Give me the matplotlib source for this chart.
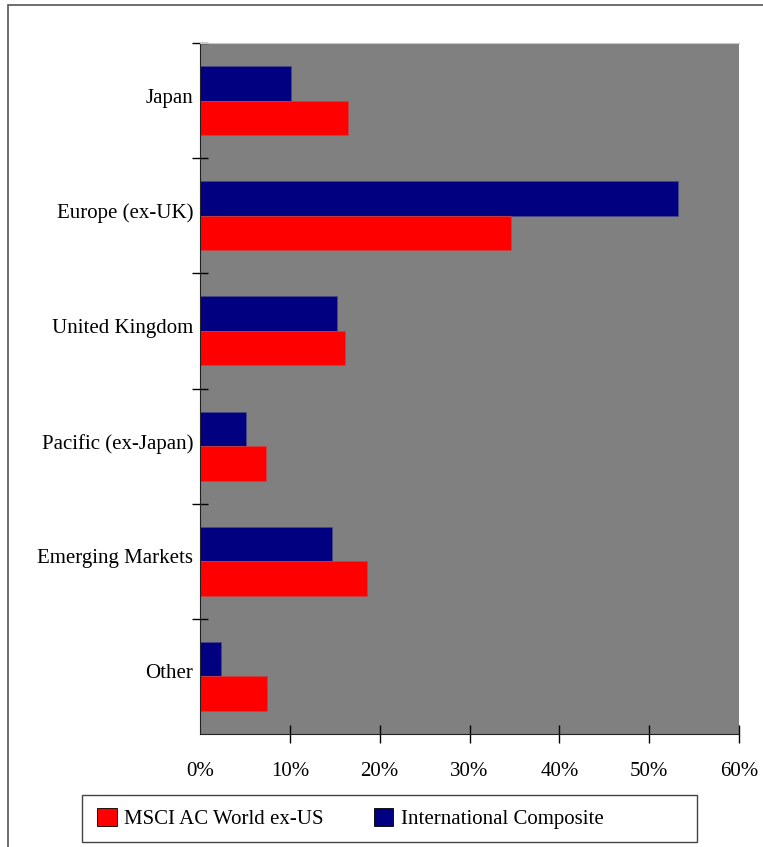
import matplotlib.pyplot as plt
import matplotlib.transforms as mtransforms
from matplotlib.patches import Rectangle, Patch
from matplotlib.ticker import FuncFormatter
import numpy as np

plt.rcParams['font.family'] = ['Liberation Serif', 'DejaVu Serif']

regions = ['Japan', 'Europe (ex-UK)', 'United Kingdom', 'Pacific (ex-Japan)',
           'Emerging Markets', 'Other']
msci = [16.5, 34.6, 16.1, 7.3, 18.6, 7.5]
composite = [10.1, 53.2, 15.3, 5.1, 14.7, 2.3]
xticks = [0, 10, 20, 30, 40, 50, 60]

W, H = 763, 847
fig = plt.figure(figsize=(W / 100, H / 100), dpi=100)

# outer frame, runs off the right and bottom edges
fig.patches.append(Rectangle((8 / W, -0.1), 1.2, 1 - 5 / H + 0.1, transform=fig.transFigure,
                             fill=False, edgecolor='#555555', lw=1.2))

ax = fig.add_axes([200 / W, 1 - 734 / H, 539 / W, 691 / H])
ax.set_facecolor('#808080')

y = np.arange(len(regions))
h = 0.3
ax.barh(y - h / 2, composite, height=h, color='#000080', edgecolor='#4a4a8a', lw=0.5)
ax.barh(y + h / 2, msci, height=h, color='#ff0000', edgecolor='#d04040', lw=0.5)

ax.set_xlim(0, 60)
ax.set_ylim(len(regions) - 0.5, -0.5)

ax.set_yticks(y)
ax.set_yticklabels(regions, fontsize=15)
ax.set_yticks(np.arange(-0.5, len(regions) - 1), minor=True)
ax.tick_params(axis='y', which='major', length=0, pad=5)
ax.tick_params(axis='y', which='minor', direction='inout', length=12, width=1)
shift = mtransforms.ScaledTranslation(0, 5 / 100, fig.dpi_scale_trans)
for lab in ax.get_yticklabels():
    lab.set_transform(lab.get_transform() + shift)

ax.set_xticks(xticks)
ax.xaxis.set_major_formatter(FuncFormatter(lambda v, p: f'{v:.0f}%'))
ax.tick_params(axis='x', direction='inout', length=13, width=1, labelsize=15, pad=14)
ax.xaxis.get_major_ticks()[0].tick1line.set_visible(False)

ax.spines['right'].set_visible(False)
ax.spines['top'].set_color('#c8c8c8')
ax.spines['left'].set_color('#222222')
ax.spines['bottom'].set_color('#222222')

# legend box drawn separately, items sit left in it
fig.patches.append(Rectangle((82 / W, 1 - 842 / H), 615 / W, 47 / H, transform=fig.transFigure,
                             fill=False, edgecolor='#444444', lw=1.0))
handles = [Patch(facecolor='#ff0000', edgecolor='black', lw=0.6),
           Patch(facecolor='#000080', edgecolor='black', lw=0.6)]
fig.legend(handles, ['MSCI AC World ex-US', 'International Composite'],
           loc='center left', ncol=2, fontsize=15, frameon=False,
           bbox_to_anchor=(97 / W, 1 - 818.5 / H), borderpad=0, borderaxespad=0,
           handlelength=0.95, handleheight=0.95, handletextpad=0.35,
           columnspacing=2.4)

fig.savefig('out.png', dpi=100)
